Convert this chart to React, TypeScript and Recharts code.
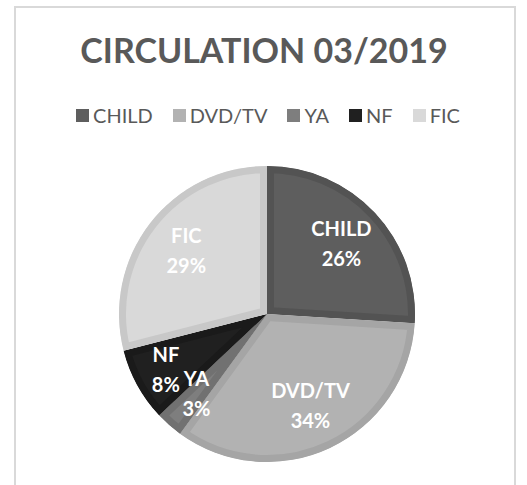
import React from 'react'
import { PieChart, Pie, Cell, Sector } from 'recharts'

// circulation share by collection, March 2019
const categories = ['CHILD', 'DVD/TV', 'YA', 'NF', 'FIC']
const shares = [26, 34, 3, 8, 29]
const fills = ['#5e5e5e', '#b2b2b2', '#7e7e7e', '#202020', '#d9d9d9']
const edges = ['#535353', '#a5a5a5', '#717171', '#1a1a1a', '#c8c8c8']

const data = categories.map((name, i) => ({ name, value: shares[i] }))

const RADIAN = Math.PI / 180
const FONT = 'Lato, "Open Sans", sans-serif'

// slice with an inset darker rim, like Excel's soft bevel
const BevelSector = (props: any) => {
  const name = props.payload?.name ?? props.name
  const i = categories.indexOf(name)
  const id = `slice-clip-${i}`
  const geo = {
    cx: props.cx,
    cy: props.cy,
    innerRadius: 0,
    outerRadius: props.outerRadius,
    startAngle: props.startAngle,
    endAngle: props.endAngle,
  }
  return (
    <g>
      <defs>
        <clipPath id={id}>
          <Sector {...geo} />
        </clipPath>
      </defs>
      <Sector
        {...geo}
        fill={fills[i]}
        stroke={edges[i]}
        strokeWidth={14}
        clipPath={`url(#${id})`}
      />
    </g>
  )
}

// thin slices get their label pushed a bit further out so they don't collide
const labelReach = (p: number) => (p < 0.05 ? 0.72 : p < 0.1 ? 0.78 : 0.69)

const renderLabel = ({ cx, cy, midAngle, outerRadius, name, percent }: any) => {
  const r = outerRadius * labelReach(percent)
  const x = cx + r * Math.cos(-midAngle * RADIAN)
  const y = cy + r * Math.sin(-midAngle * RADIAN)
  return (
    <text
      x={x}
      y={y}
      textAnchor="middle"
      fill="#ffffff"
      fontFamily={FONT}
      fontWeight={700}
      fontSize={20}
    >
      <tspan x={x} dy={-8}>{name}</tspan>
      <tspan x={x} dy={30}>{`${Math.round(percent * 100)}%`}</tspan>
    </text>
  )
}

export default function App() {
  return (
    <div
      style={{
        position: 'absolute',
        left: 0,
        top: 0,
        width: 527,
        height: 485,
        overflow: 'hidden',
        background: '#fff',
        fontFamily: FONT,
      }}
    >
      <div
        style={{
          position: 'absolute',
          left: 14,
          top: 6,
          width: 498,
          height: 520,
          border: '2px solid #d9d9d9',
        }}
      />
      <svg width={527} height={90} style={{ position: 'absolute', left: 0, top: 0 }}>
        <text
          x={264}
          y={63}
          textAnchor="middle"
          fill="#595959"
          fontFamily={FONT}
          fontWeight={700}
          fontSize={34}
        >
          CIRCULATION 03/2019
        </text>
      </svg>
      <div
        style={{
          position: 'absolute',
          left: 14,
          width: 502,
          top: 104,
          height: 22,
          display: 'flex',
          justifyContent: 'center',
          alignItems: 'center',
          gap: 20,
          paddingLeft: 6,
          boxSizing: 'border-box',
        }}
      >
        {categories.map((c, i) => (
          <div key={c} style={{ display: 'flex', alignItems: 'center' }}>
            <span
              style={{
                width: 13,
                height: 13,
                background: fills[i],
                marginRight: 4,
                display: 'inline-block',
              }}
            />
            <span style={{ fontSize: 20, color: '#595959', lineHeight: '22px' }}>{c}</span>
          </div>
        ))}
      </div>
      <PieChart
        width={527}
        height={485}
        margin={{ top: 0, right: 0, bottom: 0, left: 0 }}
        style={{ position: 'absolute', left: 0, top: 0 }}
      >
        <Pie
          data={data}
          dataKey="value"
          nameKey="name"
          cx={267}
          cy={314}
          outerRadius={148}
          startAngle={90}
          endAngle={-270}
          stroke="none"
          shape={BevelSector}
          label={renderLabel}
          labelLine={false}
          isAnimationActive={false}
        >
          {data.map((d, i) => (
            <Cell key={d.name} fill={fills[i]} />
          ))}
        </Pie>
      </PieChart>
    </div>
  )
}
